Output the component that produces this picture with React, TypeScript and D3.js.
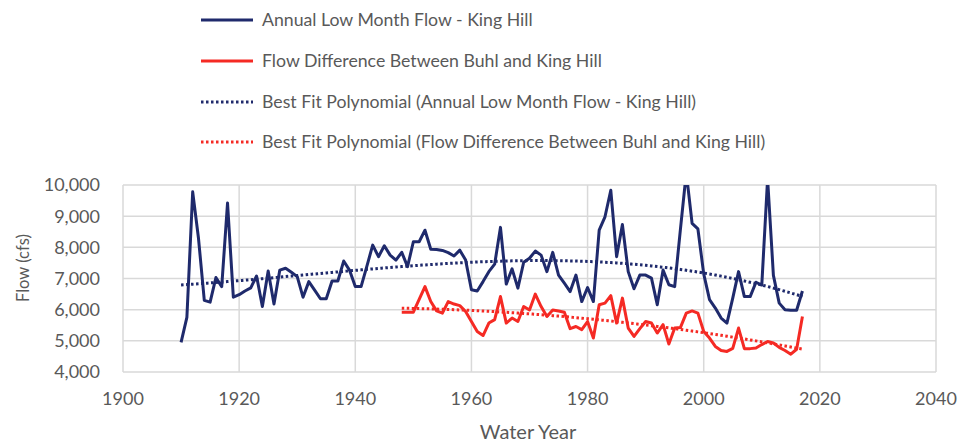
import * as d3 from "d3";

// annual low month flow at King Hill, water years 1910-2017
const kingHillStart = 1910;
const kingHill = [
  4950, 5750, 9780, 8290, 6300, 6240, 7030, 6740, 9420, 6400,
  6480, 6600, 6700, 7080, 6100, 7240, 6180, 7270, 7330, 7200,
  7060, 6400, 6900, 6630, 6350, 6350, 6920, 6920, 7560, 7270,
  6740, 6740, 7400, 8070, 7700, 8050, 7750, 7590, 7840, 7380,
  8180, 8180, 8550, 7940, 7930, 7900, 7830, 7720, 7910, 7590,
  6640, 6600, 6900, 7220, 7460, 8640, 6820, 7310, 6690, 7520,
  7650, 7880, 7750, 7220, 7840, 7110, 6850, 6580, 7110, 6260,
  6710, 6260, 8550, 8980, 9830, 7700, 8730, 7220, 6670, 7110,
  7110, 7010, 6160, 7270, 6800, 6740, 8600, 10400, 8770, 8590,
  7150, 6320, 6050, 5730, 5570, 6370, 7220, 6420, 6420, 6880,
  6790, 10200, 7100, 6210, 6000, 5980, 5980, 6600,
];

// flow difference between Buhl and King Hill, water years 1948-2017
const diffStart = 1948;
const flowDiff = [
  5920, 5920, 5920, 6330, 6740, 6260, 5960, 5890, 6260, 6180,
  6130, 5940, 5620, 5300, 5170, 5570, 5680, 6420, 5570, 5730,
  5620, 6100, 5990, 6500, 6100, 5780, 5990, 5960, 5920, 5390,
  5460, 5360, 5620, 5090, 6160, 6210, 6450, 5570, 6370, 5410,
  5140, 5390, 5620, 5570, 5250, 5520, 4900, 5410, 5430, 5890,
  5960, 5890, 5300, 5090, 4820, 4690, 4660, 4760, 5410, 4750,
  4750, 4770, 4880, 4980, 4930, 4790, 4690, 4570, 4730, 5780,
];

const xTicks = [1900, 1920, 1940, 1960, 1980, 2000, 2020, 2040];
const yTicks = [4000, 5000, 6000, 7000, 8000, 9000, 10000];

const legendLabels = [
  "Annual Low Month Flow - King Hill",
  "Flow Difference Between Buhl and King Hill",
  "Best Fit Polynomial (Annual Low Month Flow - King Hill)",
  "Best Fit Polynomial (Flow Difference Between Buhl and King Hill)",
];

const NAVY = "#1f2a6c";
const RED = "#f52a24";
const GRID = "#d9d9d9";
const TEXT = "#595959";
const FONT = "Lato, 'Open Sans', sans-serif";

type Pt = { year: number; value: number };

const toPts = (start: number, vals: number[]): Pt[] =>
  vals.map((v, i) => ({ year: start + i, value: v }));

// least squares polynomial, same thing excel's trendline does
function polyfit(pts: Pt[], deg: number) {
  const x0 = d3.mean(pts, (d) => d.year)!;
  const n = deg + 1;
  const A = d3.range(n).map(() => new Array(n + 1).fill(0));
  pts.forEach(({ year, value }) => {
    const t = (year - x0) / 50;
    for (let r = 0; r < n; r++) {
      for (let c = 0; c < n; c++) A[r][c] += Math.pow(t, r + c);
      A[r][n] += value * Math.pow(t, r);
    }
  });
  for (let i = 0; i < n; i++) {
    let p = i;
    for (let r = i + 1; r < n; r++) if (Math.abs(A[r][i]) > Math.abs(A[p][i])) p = r;
    [A[i], A[p]] = [A[p], A[i]];
    for (let r = 0; r < n; r++) {
      if (r === i) continue;
      const f = A[r][i] / A[i][i];
      for (let c = i; c <= n; c++) A[r][c] -= f * A[i][c];
    }
  }
  const coef = A.map((row, i) => row[n] / row[i]);
  return (year: number) => {
    const t = (year - x0) / 50;
    return coef.reduce((s, c, i) => s + c * Math.pow(t, i), 0);
  };
}

export default function App() {
  const W = 969, H = 442;
  const m = { l: 123, r: 33, t: 185, b: 70 };
  const x = d3.scaleLinear([1900, 2040], [m.l, W - m.r]);
  const y = d3.scaleLinear([4000, 10000], [H - m.b, m.t]);

  const blue = toPts(kingHillStart, kingHill);
  const red = toPts(diffStart, flowDiff);
  const blueFit = polyfit(blue, 3);
  const redFit = polyfit(red, 2);
  const blueTrend = d3.range(1910, 2017.01, 0.5).map((yr) => ({ year: yr, value: blueFit(yr) }));
  const redTrend = d3.range(1948, 2017.01, 0.5).map((yr) => ({ year: yr, value: redFit(yr) }));

  const line = d3.line<Pt>().x((d) => x(d.year)).y((d) => y(d.value));

  const legendY = [20, 61, 102, 142];
  const legendStyles = [
    { color: NAVY, dash: undefined },
    { color: RED, dash: undefined },
    { color: NAVY, dash: "2.5 2.5" },
    { color: RED, dash: "2.5 2.5" },
  ];

  return (
    <svg
      width={W}
      height={H}
      style={{ position: "absolute", left: 0, top: 0, background: "#fff" }}
      fontFamily={FONT}
    >
      <defs>
        <clipPath id="plot">
          <rect x={m.l} y={m.t} width={W - m.l - m.r} height={H - m.t - m.b} />
        </clipPath>
      </defs>

      {/* legend */}
      {legendLabels.map((lab, i) => (
        <g key={lab} transform={`translate(0,${legendY[i]})`}>
          <line x1={201} x2={253} stroke={legendStyles[i].color} strokeWidth={3}
            strokeDasharray={legendStyles[i].dash} />
          <text x={262} dy="0.36em" fontSize={17.7} fill={TEXT}>{lab}</text>
        </g>
      ))}

      {/* grid */}
      {yTicks.map((t) => (
        <line key={"h" + t} x1={m.l} x2={W - m.r} y1={y(t)} y2={y(t)} stroke={GRID} strokeWidth={1.5} />
      ))}
      {xTicks.map((t) => (
        <line key={"v" + t} x1={x(t)} x2={x(t)} y1={m.t} y2={H - m.b} stroke={GRID} strokeWidth={1.5} />
      ))}

      {/* tick labels */}
      {yTicks.map((t) => (
        <text key={"yl" + t} x={m.l - 23} y={y(t)} dy="0.36em" textAnchor="end" fontSize={18} fill={TEXT}>
          {d3.format(",")(t)}
        </text>
      ))}
      {xTicks.map((t) => (
        <text key={"xl" + t} x={x(t)} y={H - m.b + 27} dy="0.36em" textAnchor="middle" fontSize={18} fill={TEXT}>
          {t}
        </text>
      ))}

      {/* axis titles */}
      <text x={528} y={432} dy="0.36em" textAnchor="middle" fontSize={20} fill={TEXT}>Water Year</text>
      <text transform={`translate(23,268) rotate(-90)`} dy="0.36em" textAnchor="middle" fontSize={16.5} fill={TEXT}>
        Flow (cfs)
      </text>

      {/* series */}
      <g clipPath="url(#plot)" fill="none">
        <path d={line(blue)!} stroke={NAVY} strokeWidth={3} strokeLinejoin="round" />
        <path d={line(red)!} stroke={RED} strokeWidth={3} strokeLinejoin="round" />
        <path d={line(blueTrend)!} stroke={NAVY} strokeWidth={3} strokeDasharray="2.5 2.5" />
        <path d={line(redTrend)!} stroke={RED} strokeWidth={3} strokeDasharray="2.5 2.5" />
      </g>
    </svg>
  );
}
